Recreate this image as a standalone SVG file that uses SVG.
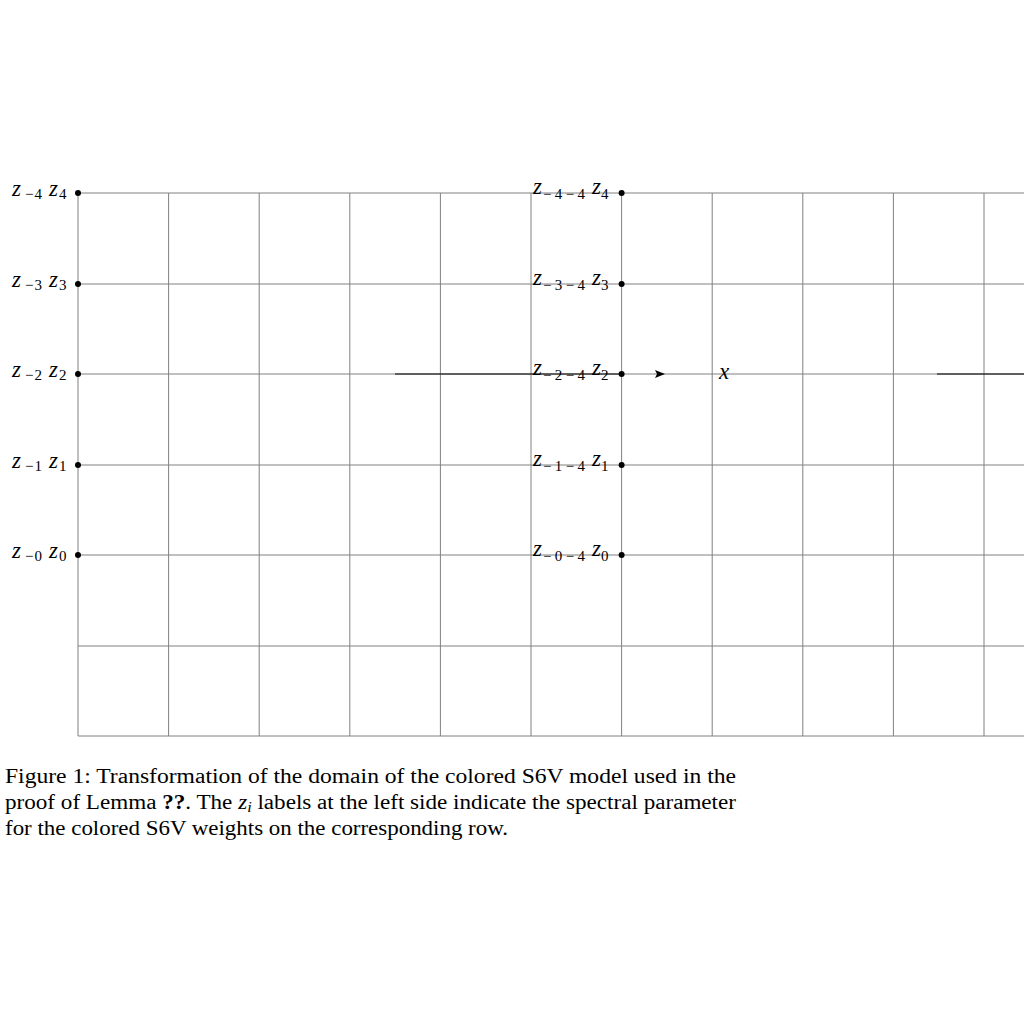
<svg xmlns="http://www.w3.org/2000/svg" width="1024" height="1024" viewBox="0 0 1024 1024">
<style>
.g{stroke:#808080;stroke-width:1;fill:none}
.k{stroke:#000;stroke-width:1.2;fill:none}
.d{fill:#000}
text{font-family:"Liberation Serif","DejaVu Serif",serif;fill:#000}
.z{font-size:23px;font-style:italic}
.s{font-size:15px;font-style:normal}
.cap{font-size:20px}
</style>
<g id="grid">
<path class="g" d="M78,193H1024M78,284H1024M78,374H1024M78,465H1024M78,555H1024M78,646H1024M78,736H1024"/>
<path class="g" d="M78,193V736M168.6,193V736M259.2,193V736M349.8,193V736M440.4,193V736M531,193V736M621.6,193V736M712.2,193V736M802.8,193V736M893.4,193V736M984,193V736"/>
</g>
<g id="connectors">
<path class="k" d="M395,374H622"/>
<path class="k" d="M937,374H1024"/>
<path d="M655,370 L665,374 L655,378 L657,374 Z" fill="#000"/>
</g>
<g id="dots">
<circle class="d" cx="78" cy="193" r="3"/><circle class="d" cx="78" cy="284" r="3"/><circle class="d" cx="78" cy="374" r="3"/><circle class="d" cx="78" cy="465" r="3"/><circle class="d" cx="78" cy="555" r="3"/>
<circle class="d" cx="621.6" cy="193" r="3"/><circle class="d" cx="621.6" cy="284" r="3"/><circle class="d" cx="621.6" cy="374" r="3"/><circle class="d" cx="621.6" cy="465" r="3"/><circle class="d" cx="621.6" cy="555" r="3"/>
</g>
<g id="left-labels">
<text class="z" x="12" y="196">z<tspan class="s" x="25" y="199" textLength="17">−4</tspan><tspan x="49" y="196">z</tspan><tspan class="s" x="59" y="199">4</tspan></text>
<text class="z" x="12" y="287">z<tspan class="s" x="25" y="290" textLength="17">−3</tspan><tspan x="49" y="287">z</tspan><tspan class="s" x="59" y="290">3</tspan></text>
<text class="z" x="12" y="377">z<tspan class="s" x="25" y="380" textLength="17">−2</tspan><tspan x="49" y="377">z</tspan><tspan class="s" x="59" y="380">2</tspan></text>
<text class="z" x="12" y="468">z<tspan class="s" x="25" y="471" textLength="17">−1</tspan><tspan x="49" y="468">z</tspan><tspan class="s" x="59" y="471">1</tspan></text>
<text class="z" x="12" y="558">z<tspan class="s" x="25" y="561" textLength="17">−0</tspan><tspan x="49" y="558">z</tspan><tspan class="s" x="59" y="561">0</tspan></text>
</g>
<g id="mid-labels">
<text class="z" x="533" y="194">z<tspan class="s" x="543" y="199" textLength="42">−4−4</tspan><tspan x="592" y="194">z</tspan><tspan class="s" x="601" y="199">4</tspan></text>
<text class="z" x="533" y="285">z<tspan class="s" x="543" y="290" textLength="42">−3−4</tspan><tspan x="592" y="285">z</tspan><tspan class="s" x="601" y="290">3</tspan></text>
<text class="z" x="533" y="375">z<tspan class="s" x="543" y="380" textLength="42">−2−4</tspan><tspan x="592" y="375">z</tspan><tspan class="s" x="601" y="380">2</tspan></text>
<text class="z" x="533" y="466">z<tspan class="s" x="543" y="471" textLength="42">−1−4</tspan><tspan x="592" y="466">z</tspan><tspan class="s" x="601" y="471">1</tspan></text>
<text class="z" x="533" y="556">z<tspan class="s" x="543" y="561" textLength="42">−0−4</tspan><tspan x="592" y="556">z</tspan><tspan class="s" x="601" y="561">0</tspan></text>
</g>
<g id="x-label"><text class="z" x="719" y="379">x</text></g>
<g id="caption" class="cap">
<text x="5" y="783" textLength="731" lengthAdjust="spacingAndGlyphs">Figure 1: Transformation of the domain of the colored S6V model used in the</text>
<text x="5" y="809" textLength="731" lengthAdjust="spacingAndGlyphs">proof of Lemma <tspan font-weight="bold">??</tspan>. The <tspan font-style="italic">z</tspan><tspan font-style="italic" font-size="14" dy="3">i</tspan><tspan dy="-3"> labels at the left side indicate the spectral parameter</tspan></text>
<text x="5" y="835" textLength="503" lengthAdjust="spacingAndGlyphs">for the colored S6V weights on the corresponding row.</text>
</g>
</svg>
